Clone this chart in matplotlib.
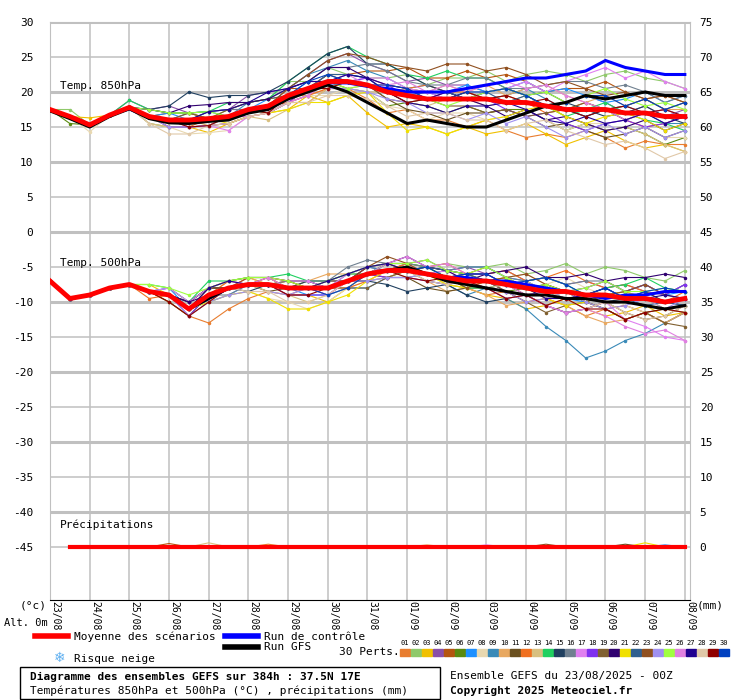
import matplotlib
matplotlib.use("Agg")
import matplotlib.pyplot as plt
import numpy as np
from matplotlib.patches import Rectangle
from matplotlib.lines import Line2D

dates = ["23/08","24/08","25/08","26/08","27/08","28/08","29/08","30/08","31/08",
         "01/09","02/09","03/09","04/09","05/09","06/09","07/09","08/09"]
steps = [i*0.5 for i in range(33)]

mean850 = [17.5,16.5,15.3,16.7,17.8,16.5,16.0,16.0,16.2,16.5,17.5,18.0,19.5,20.5,21.5,21.5,21.0,
           20.0,19.5,19.0,19.0,19.0,19.0,18.5,18.5,18.0,17.5,17.5,17.5,17.0,17.0,16.5,16.5]
ctrl850 = [17.5,16.5,15.3,16.7,17.6,16.3,16.0,15.8,16.0,16.3,17.3,18.0,19.3,20.3,21.3,21.3,20.8,
           20.5,20.0,20.0,20.0,20.5,21.0,21.5,22.0,22.0,22.5,23.0,24.5,23.5,23.0,22.5,22.5]
gfs850 = [17.3,16.2,15.0,16.5,17.6,16.2,15.6,15.5,15.8,16.0,17.0,17.5,19.0,20.0,21.0,20.0,18.5,
          17.0,15.5,16.0,15.5,15.0,15.0,16.0,17.0,18.0,18.5,19.5,19.0,19.5,20.0,19.5,19.5]
mean500 = [-7,-9.5,-9,-8,-7.5,-8.5,-9,-11,-9,-8,-7.5,-7.5,-8,-8,-8,-7,-6,-5.5,-5.5,-6,-6.5,-7,-7,
           -7.5,-8,-8.5,-8.5,-9,-9,-9.5,-9.5,-10,-9.5]
ctrl500 = [-7,-9.5,-9,-8,-7.5,-8.5,-9,-11,-9.5,-8,-7.5,-7.5,-8,-8,-8,-7,-6,-5.5,-5.5,-6,-6.5,-6.5,
           -7,-7,-7.5,-8,-8.5,-9,-9.5,-9,-9,-8.5,-8.5]
gfs500 = [-7,-9.5,-9,-8,-7.5,-8.5,-9,-11,-9.5,-8,-7.5,-7.5,-8,-8,-8,-7,-6,-5.5,-5,-6,-7,-7.5,-8,
          -8.5,-9,-9,-9.5,-9.5,-10,-10,-10.5,-11,-10.5]

# member deviations from the ensemble mean (°C)
dev850 = """
0 0 0 0 0 0 0 -1 -1 -1 -1 | -1 -1 -2 -1 -1 -2 -3 -2 -3 -3 -4 | -3 -4 -5 -4 -4 -3 -4 -5 -4 -4 -4
0 1 0 0 0 1 1 1 0 1 1 | 1 2 1 2 1 1 2 3 2 3 3 | 4 3 4 5 5 4 5 6 5 5 4
0 0 1 0 0 0 -1 -1 -2 -1 -1 | -1 -2 -1 -3 -2 -4 -5 -4 -4 -5 -4 | -5 -4 -3 -4 -5 -4 -3 -4 -5 -4 -5
0 0 0 0 1 1 2 1 1 1 2 | 2 1 2 3 4 3 3 2 3 2 2 | 1 2 1 0 1 2 1 0 1 0 1
0 0 0 0 0 0 1 1 0 0 0 | 0 1 0 1 1 2 3 4 3 3 4 | 3 4 3 2 3 3 4 3 2 3 2
0 -1 0 0 0 -1 -1 -1 -1 0 0 | -1 -1 0 0 -1 -1 -2 -1 -1 -2 -1 | -2 -1 -1 -2 -3 -2 -3 -2 -3 -4 -3
0 0 0 0 0 0 1 0 1 1 0 | 1 0 1 0 1 1 0 1 2 1 2 | 1 2 3 2 3 2 1 2 3 2 3
0 0 -1 0 0 -1 -1 -2 -2 -2 -1 | -1 -1 -1 -2 -1 -1 -2 -2 -3 -2 -2 | -3 -2 -1 -2 -3 -2 -2 -3 -2 -3 -3
0 0 0 0 0 0 0 1 1 0 1 | 1 1 2 2 3 2 2 1 1 0 1 | 0 1 2 1 0 -1 0 1 0 -1 -1
0 0 0 0 0 0 0 0 -1 0 0 | 0 0 -1 -1 -1 0 0 1 1 2 1 | 2 1 2 3 2 1 2 1 2 1 1
0 0 0 0 0 0 0 0 0 0 0 | -1 -1 -1 0 0 0 -1 -2 -2 -3 -2 | -2 -1 -2 -3 -2 -3 -4 -3 -2 -3 -2
0 0 0 0 0 0 -1 -1 0 0 0 | 0 -1 -1 -1 0 0 1 1 2 1 1 | 0 1 0 -1 0 1 0 -1 -2 -1 0
0 0 0 0 0 -1 -1 -1 -1 -1 -1 | -2 -2 -2 -1 -1 -1 0 -1 -1 0 0 | -1 0 1 0 -1 -2 -3 -2 -3 -4 -5
0 0 0 0 1 1 1 1 1 2 1 | 1 2 3 4 5 4 4 3 3 4 3 | 3 2 1 0 -1 0 1 0 -1 -1 -2
0 0 0 0 0 1 2 4 3 3 2 | 2 2 3 4 5 3 4 3 2 1 0 | 1 2 1 2 1 0 -1 0 1 0 -1
0 0 0 0 0 0 0 0 1 1 0 | 0 1 1 2 2 3 3 2 2 2 3 | 3 2 2 3 4 4 3 4 3 2 3
0 0 0 0 0 0 0 -1 -1 -2 -1 | -1 -1 -1 0 0 1 2 1 1 0 0 | 1 2 3 2 4 5 6 5 6 5 4
0 0 0 0 0 0 -1 -1 -1 -1 -1 | -1 -1 0 0 0 1 1 0 0 1 0 | 0 -1 -2 -1 -2 -3 -2 -1 -2 -1 0
0 0 0 0 0 0 0 1 0 1 1 | 1 0 0 1 0 0 -1 -1 0 -1 -1 | -2 -1 -2 -1 0 1 0 1 2 1 2
0 0 0 0 0 1 1 2 2 2 1 | 1 1 1 2 2 1 1 1 0 1 0 | -1 -2 -1 -2 -1 -2 -3 -2 -1 -2 -1
0 0 0 0 0 0 0 0 0 -1 -1 | -1 -2 -2 -3 -2 -1 -3 -5 -4 -5 -4 | -3 -2 -1 0 -1 -2 -1 0 -1 -2 -1
0 0 0 0 0 0 0 0 0 0 0 | 0 0 0 1 1 1 0 0 1 1 0 | 1 0 1 0 0 -1 0 -1 0 1 0
0 0 0 0 0 0 0 0 0 0 0 | 0 1 2 3 4 4 4 4 4 5 5 | 4 5 4 3 4 3 2 3 2 3 2
0 0 0 0 0 0 -1 -1 -1 0 0 | 0 0 0 -1 -1 -1 -1 -1 -2 -2 -3 | -2 -3 -2 -3 -4 -3 -2 -3 -2 -3 -2
0 0 0 0 0 1 1 1 1 0 0 | 0 0 0 0 -1 0 0 0 0 -1 0 | 1 2 1 2 1 2 3 2 1 2 1
0 0 0 0 0 0 0 0 0 0 -1 | -1 -1 -1 0 1 0 1 2 1 2 1 | 2 3 2 3 2 1 0 -1 0 1 0
0 0 0 0 0 0 0 0 1 1 1 | 2 1 1 0 1 1 0 -1 -1 -2 -1 | -1 0 -1 -2 -2 -1 -2 -1 0 -1 0
0 0 0 0 0 -1 -2 -2 -1 -1 -1 | -1 -1 -2 -2 -2 -2 -2 -3 -2 -2 -3 | -3 -4 -3 -2 -3 -4 -5 -4 -5 -6 -5
0 0 0 0 0 0 0 -1 -1 0 0 | -1 0 0 -1 0 0 0 -1 0 0 1 | 0 1 0 1 0 -1 0 1 0 1 0
0 0 0 0 0 0 0 0 0 0 0 | 0 0 1 1 0 0 1 1 0 0 1 | 1 2 1 0 1 2 2 1 2 1 2
"""
dev500 = """
0 0 0 0 0 0 -1 -1 -4 -3 -2 | -1 -1 0 0 0 0 1 0 1 0 -1 | -2 -1 -2 -1 -2 -3 -2 -3 -2 -3 -2
0 0 0 0 0 0 0 1 1 1 1 | 1 0 1 1 1 1 1 1 1 2 2 | 2 3 2 3 4 3 4 4 3 3 4
0 0 0 0 0 1 0 0 1 1 1 | 0 -1 -1 -2 -1 0 0 1 0 -1 -1 | -2 -2 -3 -2 -1 -2 -3 -2 -1 -2 -2
0 0 0 0 0 0 1 1 1 0 1 | 1 1 1 1 0 1 0 1 2 1 2 | 1 2 1 2 1 2 1 2 1 1 2
0 0 0 0 0 0 0 0 0 0 1 | 1 0 0 -1 0 -1 -1 0 0 1 1 | 2 1 0 1 0 -1 -2 -1 -2 -3 -2
0 0 0 0 0 0 -1 -1 0 0 0 | 0 1 1 0 0 0 1 0 1 0 1 | 0 -1 0 1 0 -1 -2 -3 -2 -1 -2
0 0 0 0 0 0 1 0 -1 -1 0 | 0 0 -1 -1 -1 -2 -1 -1 0 1 2 | 2 1 1 0 -1 -1 0 1 2 1 1
0 0 0 0 0 0 0 0 -1 -1 -1 | -2 -2 -3 -2 -1 -1 -1 0 0 0 1 | 0 1 2 1 2 1 0 -1 -2 -3 -2
0 0 0 0 0 0 0 0 0 0 0 | 0 0 0 0 1 1 0 0 -1 -1 -2 | -1 -2 -3 -5 -7 -9 -8 -6 -5 -3 -2
0 0 0 0 0 0 0 0 0 1 1 | 0 0 1 2 1 0 -1 0 -1 -2 -1 | -2 -3 -2 -1 -2 -3 -4 -3 -2 -3 -2
0 0 0 0 0 0 0 1 1 0 0 | -1 0 0 1 0 0 -1 -1 -2 -2 -1 | -1 0 -1 -2 -3 -2 -1 -2 -3 -2 -1
0 0 0 0 0 -1 0 0 0 1 0 | 0 1 0 0 -1 -1 0 1 1 2 1 | 1 2 1 2 3 2 1 2 1 0 1
0 0 0 0 0 0 0 -1 -1 0 0 | -1 -1 -2 -1 -1 0 0 -1 0 -1 -1 | 0 1 0 -1 0 1 2 1 0 -1 -2
0 0 0 0 0 1 1 1 2 1 1 | 1 2 1 1 1 0 1 1 1 0 -1 | -1 0 1 2 1 0 1 2 3 2 1
0 0 0 0 0 0 0 1 1 0 -1 | 0 0 1 0 0 -1 -2 -3 -2 -1 -2 | -3 -2 -1 -2 -3 -2 -1 0 1 0 -1
0 0 0 0 0 0 0 0 0 -1 0 | 0 1 1 1 2 2 1 1 1 1 2 | 2 1 1 2 1 2 2 1 2 1 2
0 0 0 0 0 0 1 1 1 1 0 | 1 1 1 0 1 1 1 1 0 1 0 | -1 -2 -1 -2 -3 -2 -1 -3 -4 -5 -6
0 0 0 0 0 0 0 -1 0 0 0 | 0 -1 -1 -1 0 0 -1 -1 -1 -1 0 | 0 -1 -1 0 0 1 2 1 2 1 2
0 0 0 0 0 0 0 0 0 0 0 | 0 0 0 0 -1 -2 -1 0 1 1 1 | 0 -1 -2 -3 -2 -1 -2 -3 -2 -3 -4
0 0 0 0 0 0 0 1 0 0 0 | 0 0 0 0 0 1 1 2 1 1 0 | 1 2 3 2 2 3 2 3 3 4 3
0 0 0 0 0 0 0 0 -1 -1 -1 | -2 -3 -3 -2 -2 -1 0 0 0 -1 -1 | 0 1 0 -1 -2 -1 0 1 0 -1 -1
0 0 0 0 0 0 0 0 0 0 0 | 0 0 0 0 0 0 0 0 1 1 1 | 0 0 1 0 -1 0 1 0 -1 0 -1
0 0 0 0 0 0 0 0 1 0 0 | 1 1 0 0 0 1 2 1 0 0 -1 | 0 1 2 1 0 -1 0 1 2 1 0
0 0 0 0 0 0 0 -1 -1 -1 -1 | -1 -1 0 0 0 -1 -1 -1 0 0 0 | -1 -1 -2 -1 0 -1 -2 -1 0 -1 0
0 0 0 0 0 1 1 2 1 1 1 | 1 1 0 1 1 1 1 1 2 1 1 | 2 1 0 1 0 1 2 1 1 2 1
0 0 0 0 0 0 0 0 0 0 0 | 1 0 0 -1 0 0 1 2 1 2 1 | 1 0 -1 -2 -3 -2 -3 -4 -5 -4 -6
0 0 0 0 0 0 0 0 1 1 0 | 0 0 0 1 1 1 1 0 0 0 1 | 1 0 0 -1 -1 0 1 0 0 1 0
0 0 0 0 0 0 0 0 0 0 -1 | -1 -2 -2 -1 0 0 0 0 -1 -1 0 | -1 0 1 0 -1 -2 -1 -2 -3 -2 -1
0 0 0 0 0 0 -1 -1 -1 0 0 | 0 -1 -1 0 0 0 0 -1 -1 0 0 | -1 -2 -1 -2 -1 -2 -2 -3 -2 -1 -2
0 0 0 0 0 0 0 0 0 0 0 | 0 0 0 -1 -1 0 0 0 1 0 1 | 1 0 1 2 1 0 1 0 1 2 1
"""
# small precipitation amounts (member index, step index, mm)
precip_bumps = [(4, 6, 0.5), (12, 8, 0.6), (0, 11, 0.4), (9, 19, 0.3), (16, 22, 0.3),
                (22, 25, 0.4), (10, 29, 0.4), (20, 30, 0.6), (6, 31, 0.3)]

colors = ["#e87d2f","#8fc96a","#f0c000","#8a4fa8","#b5550f","#5a8a10","#1e90ff","#e8d8b0",
          "#3a8ab8","#e8a860","#6a5020","#f07020","#d8c080","#20d060","#204060","#708090",
          "#e080f0","#8030f0","#806030","#300070","#f0e000","#306090","#905020","#a090f0",
          "#a0ff40","#e080e0","#200090","#e0c8a8","#900000","#0040c0"]

def parse(s):
    rows = []
    for line in s.strip().splitlines():
        v = [float(t) for t in line.replace("|", " ").split()]
        v = (v + [v[-1]] * 33)[:33]
        rows.append(v)
    return np.array(rows)

d850 = parse(dev850); d500 = parse(dev500)
m850 = np.array(mean850); m500 = np.array(mean500)

W, H = 740, 700
fig = plt.figure(figsize=(W/100, H/100), dpi=100)
fig.patch.set_facecolor("white")
ax = fig.add_axes([50/W, 1-600/H, 640/W, 578/H])
ytop = 30; ybot = 30 - 578/7
ax.set_xlim(0, 16); ax.set_ylim(ybot, ytop)
FONT = "DejaVu Sans Mono"

for y in range(-45, 31, 5):
    ax.axhline(y, color="#c0c0c0", lw=2.2 if y % 10 == 0 else 1.1, zorder=0)
for x in range(17):
    ax.axvline(x, color="#c0c0c0", lw=1.1, zorder=0)

for i in range(30):
    ax.plot(steps, m850 + d850[i], color=colors[i], lw=0.8, marker="o", ms=1.5, zorder=2)
    ax.plot(steps, m500 + d500[i], color=colors[i], lw=0.8, marker="o", ms=1.5, zorder=2)
    pr = np.zeros(33)
    for (mi, si, mm) in precip_bumps:
        if mi == i:
            pr[si] = mm
    ax.plot(steps[1:], -45 + pr[1:], color=colors[i], lw=0.8, zorder=2)

for ser in (ctrl850, ctrl500):
    ax.plot(steps, ser, color="#0000ff", lw=2.2, zorder=3)
for ser in (gfs850, gfs500):
    ax.plot(steps, ser, color="black", lw=2.2, zorder=3)
ax.plot(steps, m850, color="#ff0000", lw=3.5, zorder=4)
ax.plot(steps, m500, color="#ff0000", lw=3.5, zorder=4)
ax.plot(steps[1:], [-45]*32, color="#ff0000", lw=3, zorder=4)

ax.text(0.25, 20.2, "Temp. 850hPa", fontsize=8, family=FONT, va="bottom")
ax.text(0.25, -5.2, "Temp. 500hPa", fontsize=8, family=FONT, va="bottom")
ax.text(0.25, -42.6, "Précipitations", fontsize=8, family=FONT, va="bottom")

yt = list(range(30, -46, -5))
ax.set_yticks(yt)
ax.set_yticklabels([str(v) for v in yt], fontsize=8, family=FONT)
ax.tick_params(axis="y", length=0, pad=12)
sec = ax.secondary_yaxis("right", functions=(lambda v: v + 45, lambda v: v - 45))
sec.set_yticks([v + 45 for v in yt])
sec.set_yticklabels([str(v + 45) for v in yt], fontsize=8, family=FONT)
sec.tick_params(length=0, pad=7)
sec.spines["right"].set_visible(False)
ax.set_xticks([x + 0.13 for x in range(17)])
ax.set_xticklabels(dates, rotation=-90, fontsize=7, family=FONT, va="top", ha="center")
ax.tick_params(axis="x", length=0, pad=1)
for s in ax.spines.values():
    s.set_color("#c0c0c0")
ax.spines["bottom"].set_color("black")

def ft(x, y, s, **kw):
    kw.setdefault("fontsize", 8); kw.setdefault("family", FONT)
    fig.text(x/W, 1-y/H, s, va="center", **kw)

ft(20, 606, "(°c)"); ft(4, 623, "Alt. 0m", fontsize=7.5); ft(697, 606, "(mm)")
fig.add_artist(Line2D([35/W, 68/W], [1-636/H]*2, color="#ff0000", lw=4))
ft(74, 637, "Moyenne des scénarios")
fig.add_artist(Line2D([225/W, 258/W], [1-636/H]*2, color="#0000ff", lw=4))
ft(264, 637, "Run de contrôle")
fig.add_artist(Line2D([225/W, 258/W], [1-647/H]*2, color="black", lw=4))
ft(264, 647, "Run GFS")
ft(339, 652, "30 Perts.")
for i in range(30):
    x0 = 400 + i*11
    fig.add_artist(Rectangle((x0/W, 1-656/H), 10/W, 7/H, color=colors[i], transform=fig.transFigure))
    ft(x0+5, 643, "%02d" % (i+1), fontsize=5, ha="center")
ft(60, 658, "❄", color="#60b0f0", fontsize=10, family="DejaVu Sans", ha="center")
ft(74, 659, "Risque neige")
fig.add_artist(Rectangle((20/W, 1-699/H), 420/W, 32/H, fill=False, ec="black", lw=1, transform=fig.transFigure))
ft(30, 677, "Diagramme des ensembles GEFS sur 384h : 37.5N 17E", fontweight="bold")
ft(30, 691, "Températures 850hPa et 500hPa (°C) , précipitations (mm)")
ft(450, 676, "Ensemble GEFS du 23/08/2025 - 00Z")
ft(450, 691, "Copyright 2025 Meteociel.fr", fontweight="bold")

fig.savefig("out.png", dpi=100, facecolor="white")
